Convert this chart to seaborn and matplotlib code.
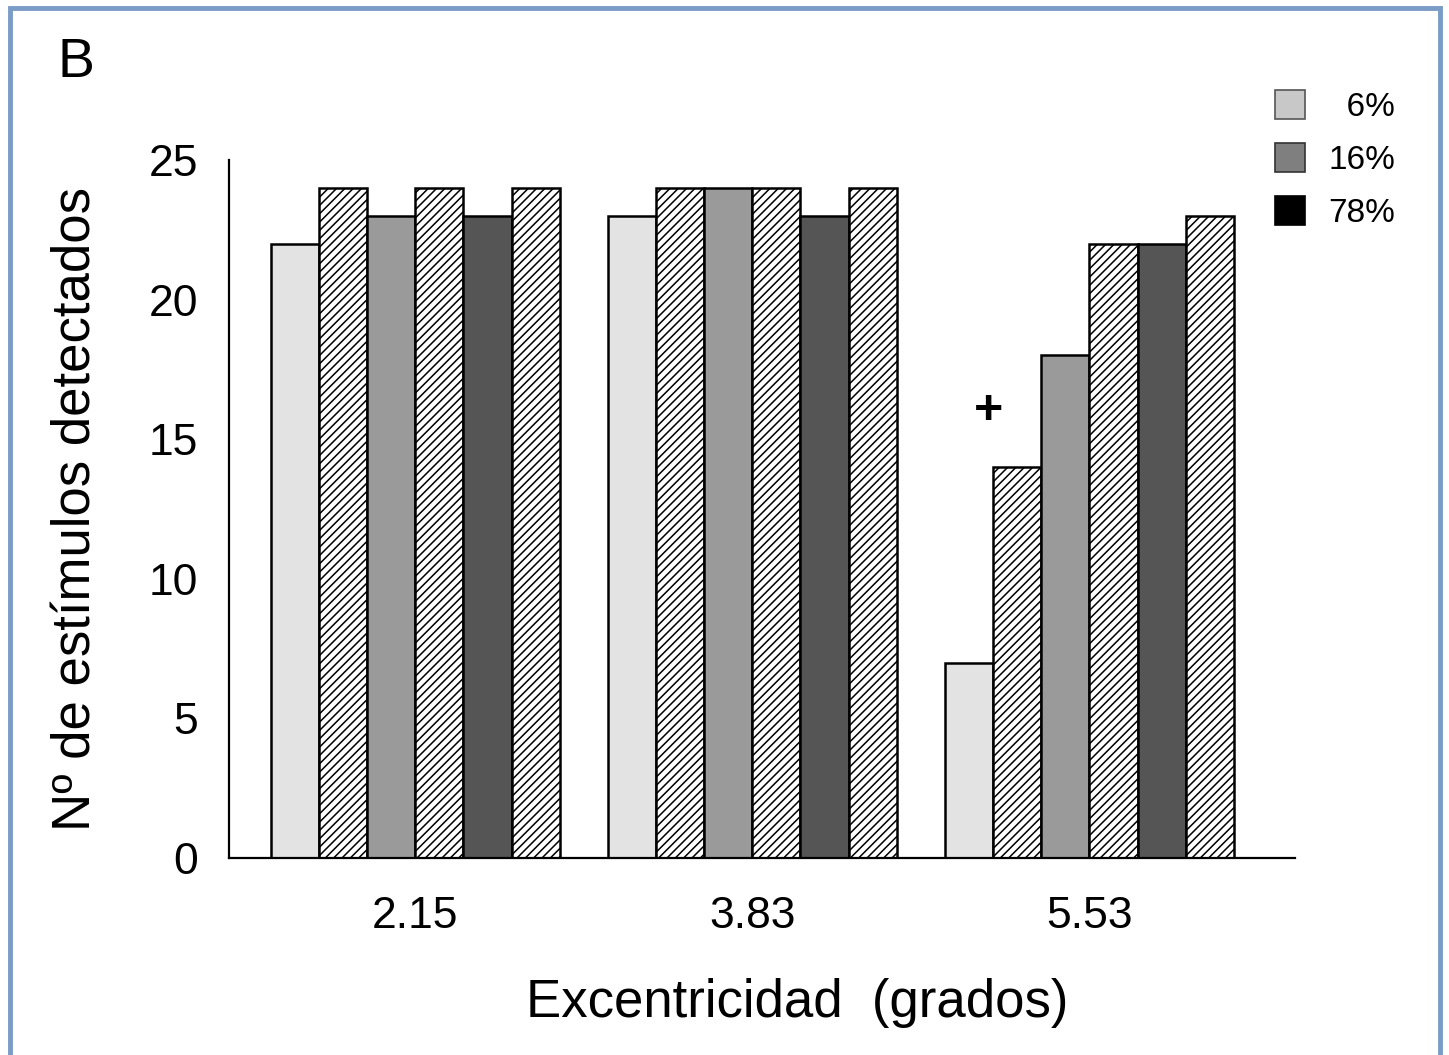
import numpy as np
import pandas as pd
import matplotlib
matplotlib.use("Agg")
import matplotlib.pyplot as plt
from matplotlib.patches import Patch, Rectangle
import seaborn as sns

# Data
eccentricities = ['2.15', '3.83', '5.53']
conditions = ['6%', '6% (b)', '16%', '16% (b)', '78%', '78% (b)']
values_6 = [22, 23, 7]
values_6b = [24, 24, 14]
values_16 = [23, 24, 18]
values_16b = [24, 24, 22]
values_78 = [23, 23, 22]
values_78b = [24, 24, 23]

series = [values_6, values_6b, values_16, values_16b, values_78, values_78b]
rows = []
for cond, vals in zip(conditions, series):
    for ecc, v in zip(eccentricities, vals):
        rows.append({'ecc': ecc, 'cond': cond, 'n': v})
df = pd.DataFrame(rows)

sns.set_style("white")
plt.rcParams['font.family'] = ['Liberation Sans', 'DejaVu Sans']
plt.rcParams['hatch.linewidth'] = 1.1
for key in ['text.color', 'axes.labelcolor', 'xtick.color', 'ytick.color']:
    plt.rcParams[key] = 'black'

bar_colors = ['#E3E3E3', 'white', '#9A9A9A', 'white', '#555555', 'white']
hatched = [False, True, False, True, False, True]

fig = plt.figure(figsize=(14.49, 10.55), dpi=100)
ax = fig.add_axes([0.158, 0.1867, 0.7357, 0.6616])

sns.barplot(data=df, x='ecc', y='n', hue='cond', order=eccentricities,
            hue_order=conditions, palette=bar_colors, width=0.857,
            edgecolor='black', linewidth=1.8, legend=False, ax=ax)

for cont, h in zip(ax.containers, hatched):
    for bar in cont:
        if h:
            bar.set_hatch('////')

ax.set_xlim(-0.553, 2.61)
ax.set_ylim(0, 25)
ax.set_yticks(np.arange(0, 26, 5))
ax.tick_params(axis='y', direction='in', length=12, width=1.5,
               labelsize=32, pad=22)
ax.tick_params(axis='x', length=0, labelsize=32, pad=27)
for s in ['top', 'right']:
    ax.spines[s].set_visible(False)
for s in ['left', 'bottom']:
    ax.spines[s].set_linewidth(1.6)
    ax.spines[s].set_color('black')

ax.set_xlabel('Excentricidad  (grados)', fontsize=38, labelpad=30)
ax.xaxis.label.set_x(0.533)
ax.set_ylabel('Nº de estímulos detectados', fontsize=38, labelpad=34)

# significance mark
ax.text(1.70, 16, '+', fontsize=36, fontweight='bold', ha='center', va='center')

# panel letter
fig.text(0.040, 0.940, 'B', fontsize=40, ha='left', va='center')

# legend
handles = [Patch(facecolor='#C8C8C8', edgecolor='#555555', linewidth=1.2),
           Patch(facecolor='#7F7F7F', edgecolor='#333333', linewidth=1.2),
           Patch(facecolor='black', edgecolor='black', linewidth=1.2)]
fig.legend(handles, ['  6%', '16%', '78%'], loc='upper left',
           bbox_to_anchor=(0.859, 0.943), frameon=False, fontsize=24,
           handlelength=0.9, handleheight=0.95, handletextpad=0.7,
           labelspacing=0.6)

# outer frame
fig.patches.append(Rectangle((9.5 / 1449, -0.02), (1440 - 9.5) / 1449, 1.02 - 8 / 1055,
                             transform=fig.transFigure, fill=False,
                             edgecolor='#7A9CC6', linewidth=3.5))

fig.savefig('out.png', dpi=100)
